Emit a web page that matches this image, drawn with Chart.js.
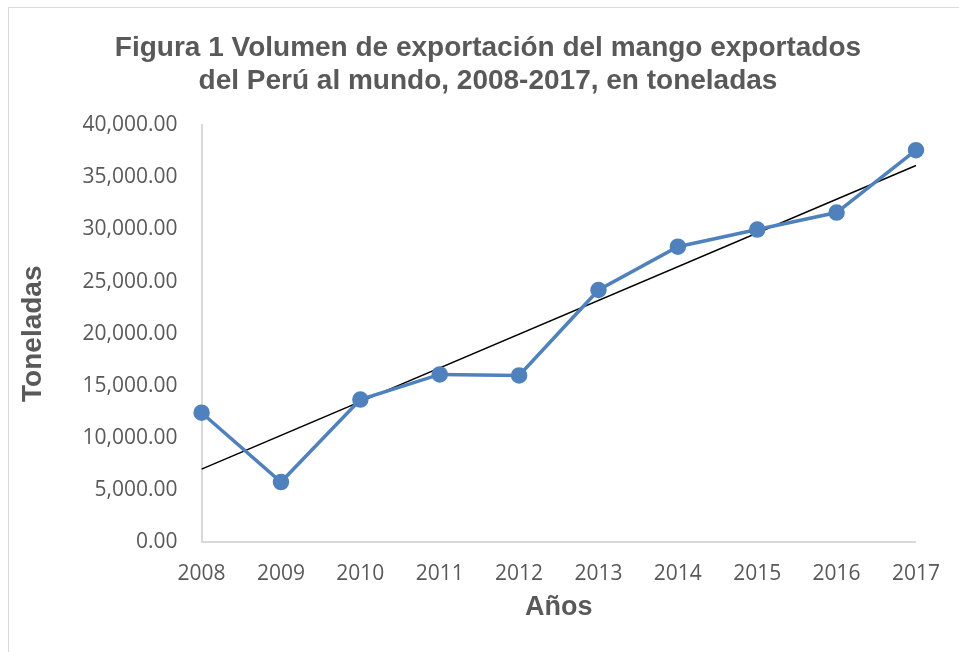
<!DOCTYPE html>
<html>
<head>
<meta charset="utf-8">
<script src="https://cdn.jsdelivr.net/npm/chart.js@4"></script>
<style>
  html, body { margin: 0; padding: 0; background: #fff; }
  #box {
    position: absolute; left: 8px; top: 7px;
    width: 980px; height: 680px;
    border: 1px solid #d9d9d9;
  }
  #wrap { position: absolute; left: 0; top: 0; width: 959px; height: 652px; }
  #title {
    position: absolute; left: 0; top: 30px; width: 976px;
    text-align: center;
    font: bold 28px "Liberation Sans", Arial, sans-serif;
    line-height: 33px;
    color: #595959;
  }
</style>
</head>
<body>
<div id="box"></div>
<div id="wrap"><canvas id="volChart" width="959" height="652"></canvas></div>
<div id="title">Figura 1 Volumen de exportación del mango exportados<br>del Perú al mundo, 2008-2017, en toneladas</div>
<script>
const years = ["2008", "2009", "2010", "2011", "2012", "2013", "2014", "2015", "2016", "2017"];
const volumen = [12430, 5780, 13690, 16100, 16000, 24190, 28340, 29980, 31610, 37590];
const tendencia = [7020, null, null, null, null, null, null, null, null, 36120];

const gray = "#595959";

const ctx =
    document
    .getElementById("volChart")
    .getContext("2d");

new Chart(ctx, {

    type: "line",

    data: {
        labels: years,

        datasets: [
            {
                label: "Volumen",
                data: volumen,
                borderColor: "#4f81bd",
                backgroundColor: "#4f81bd",
                borderWidth: 3.5,
                pointRadius: 6.5,
                pointHoverRadius: 6.5,
                tension: 0
            },
            {
                label: "Tendencia",
                data: tendencia,
                borderColor: "#000000",
                borderWidth: 1.5,
                pointRadius: 0,
                spanGaps: true,
                tension: 0
            }
        ]
    },

    options: {
        responsive: false,
        animation: false,

        layout: {
            padding: { left: 16, right: 27, top: 125, bottom: 28 }
        },

        plugins: {
            legend: { display: false },
            tooltip: { enabled: false }
        },

        scales: {

            x: {
                offset: false,
                grid: { display: false, drawTicks: false },
                border: { color: "#d9d9d9", width: 2 },
                ticks: {
                    color: gray,
                    font: { family: "Open Sans", size: 21 },
                    padding: 19,
                    maxRotation: 0
                },
                title: {
                    display: true,
                    text: "Años",
                    color: gray,
                    font: { family: "Liberation Sans", size: 27, weight: "bold" },
                    padding: { top: -14, bottom: 0 }
                }
            },

            y: {
                min: 0,
                max: 40000,
                grid: { display: false, drawTicks: false },
                border: { color: "#d9d9d9", width: 2 },
                ticks: {
                    stepSize: 5000,
                    color: gray,
                    font: { family: "Open Sans", size: 21 },
                    padding: 24,
                    callback: (v) => v.toLocaleString("en-US", { minimumFractionDigits: 2, maximumFractionDigits: 2 })
                },
                title: {
                    display: true,
                    text: "Toneladas",
                    color: gray,
                    font: { family: "Liberation Sans", size: 28, weight: "bold" },
                    padding: { top: 0, bottom: 9 }
                }
            }

        }
    }

});
</script>
</body>
</html>
